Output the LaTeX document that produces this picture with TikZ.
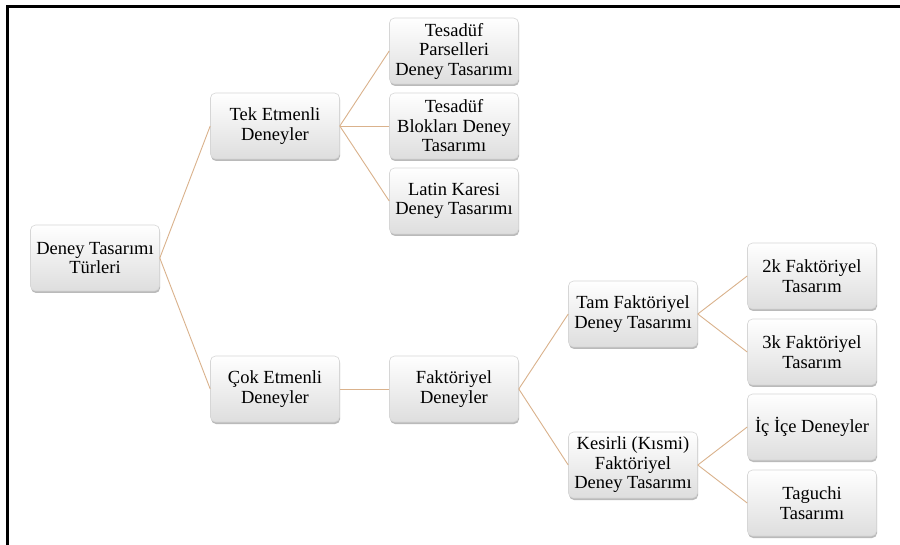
\documentclass[tikz,border=0pt]{standalone}
\usepackage{fontspec}
\setmainfont{Liberation Serif}
\usetikzlibrary{shadows}
\definecolor{linktan}{RGB}{218,178,140}
\definecolor{boxedge}{RGB}{214,214,214}
\definecolor{boxbottom}{RGB}{222,222,222}
\tikzset{
  card/.style={
    rounded corners=5pt, draw=boxedge, line width=0.6pt,
    top color=white, bottom color=boxbottom,
    drop shadow={shadow xshift=0.6pt, shadow yshift=-2pt, fill=black!45, opacity=0.6},
    minimum width=129pt, minimum height=66pt, inner sep=2pt,
    align=center, font=\fontsize{18.5}{19.5}\selectfont, text=black
  },
  link/.style={draw=linktan, line width=0.9pt},
  frameline/.style={draw=black, line width=2.2pt}
}
\begin{document}
\begin{tikzpicture}[x=1pt,y=-1pt]
  \useasboundingbox (0,0) rectangle (900,545);
  \fill[white] (0,0) rectangle (900,545);
  % open frame: top and left edges
  \coordinate (fa) at (7.5,545);
  \coordinate (fb) at (7.5,6.5);
  \coordinate (fc) at (900,6.5);
  \draw[frameline] (fa) -- (fb) -- (fc);

  % level 1
  \node[card] (root) at (95,258) {Deney Tasarımı\\Türleri};
  % level 2
  \node[card] (tek) at (275,126) {Tek Etmenli\\Deneyler};
  \node[card] (cok) at (275,389) {Çok Etmenli\\Deneyler};
  % level 3
  \node[card] (parsel) at (454,51) {Tesadüf\\Parselleri\\Deney Tasarımı};
  \node[card] (blok) at (454,126) {Tesadüf\\Blokları Deney\\Tasarımı};
  \node[card] (latin) at (454,201) {Latin Karesi\\Deney Tasarımı};
  \node[card] (fakt) at (454,389) {Faktöriyel\\Deneyler};
  % level 4
  \node[card] (tam) at (633,314) {Tam Faktöriyel\\Deney Tasarımı};
  \node[card] (kesir) at (633,465) {Kesirli (Kısmi)\\Faktöriyel\\Deney Tasarımı};
  % level 5
  \node[card] (ikik) at (812,276) {2k Faktöriyel\\Tasarım};
  \node[card] (uck) at (812,352) {3k Faktöriyel\\Tasarım};
  \node[card] (icice) at (812,427) {İç İçe Deneyler};
  \node[card] (taguchi) at (812,503) {Taguchi\\Tasarımı};

  % connectors
  \draw[link] (root.east) -- (tek.west);
  \draw[link] (root.east) -- (cok.west);
  \draw[link] (tek.east) -- (parsel.west);
  \draw[link] (tek.east) -- (blok.west);
  \draw[link] (tek.east) -- (latin.west);
  \draw[link] (cok.east) -- (fakt.west);
  \draw[link] (fakt.east) -- (tam.west);
  \draw[link] (fakt.east) -- (kesir.west);
  \draw[link] (tam.east) -- (ikik.west);
  \draw[link] (tam.east) -- (uck.west);
  \draw[link] (kesir.east) -- (icice.west);
  \draw[link] (kesir.east) -- (taguchi.west);
\end{tikzpicture}
\end{document}
